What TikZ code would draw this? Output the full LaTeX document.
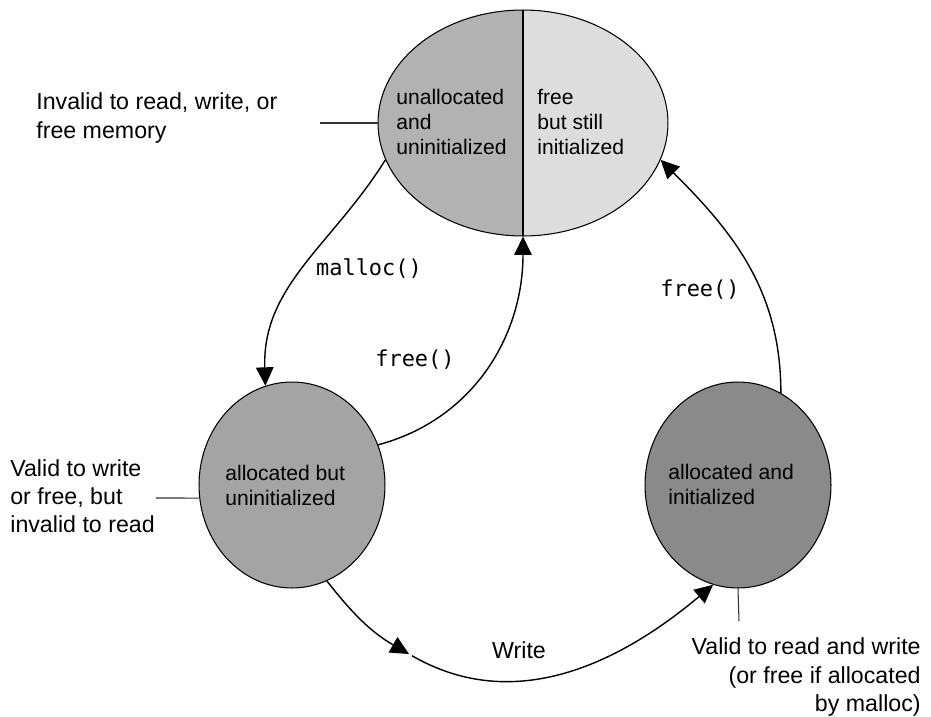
\documentclass[tikz,border=0pt]{standalone}
\usepackage{fontspec}
\setmainfont{Liberation Sans}
\setmonofont{DejaVu Sans Mono}
\usetikzlibrary{shapes.geometric,arrows.meta}
\definecolor{unallocgray}{HTML}{B2B2B2}
\definecolor{freegray}{HTML}{DDDDDD}
\definecolor{uninitgray}{HTML}{A4A4A4}
\definecolor{initgray}{HTML}{8A8A8A}

\tikzset{
  state/.style={ellipse,draw=black,line width=0.6pt,inner sep=0pt,align=left,font=\fontsize{12}{14.2}\selectfont},
  trans/.style={-{Triangle[length=10.5pt,width=10pt]},line width=0.8pt},
  note/.style={font=\fontsize{13.2}{16}\selectfont,inner sep=0pt},
  tick/.style={line width=0.6pt,draw=black!80},
  call/.style={font=\ttfamily\fontsize{12.5}{14}\selectfont,inner sep=0pt}
}

\begin{document}
\begin{tikzpicture}[x=0.02cm,y=0.02cm]
\useasboundingbox (0,0) rectangle (931,-717);
% states (pixel grid, y down as negative)
\node[state,minimum width=5.8cm,minimum height=4.52cm,fill=freegray,
  path picture={\fill[unallocgray] (path picture bounding box.south west) rectangle (path picture bounding box.north);
    \draw[line width=0.6pt] (path picture bounding box.south) -- (path picture bounding box.north);}] (top) at (523,-123) {};
\node[inner sep=0pt,anchor=west,align=left,font=\fontsize{12}{14.2}\selectfont] (ul) at (396,-122) {unallocated\\and\\uninitialized};
\node[inner sep=0pt,anchor=west,align=left,font=\fontsize{12}{14.2}\selectfont] (fr) at (537,-122) {free\\but still\\initialized};

\node[state,minimum width=3.72cm,minimum height=4.12cm,fill=uninitgray] (lu) at (292,-485) {};
\node[inner sep=0pt,anchor=west,align=left,font=\fontsize{12}{14.2}\selectfont] (lut) at (225,-485) {allocated but\\uninitialized};
\node[state,minimum width=3.72cm,minimum height=4.12cm,fill=initgray] (ai) at (738,-485) {};
\node[inner sep=0pt,anchor=west,align=left,font=\fontsize{12}{14.2}\selectfont] (ait) at (668,-484) {allocated and\\initialized};

% notes
\node[note,anchor=west,align=left] (inv) at (36,-118) {Invalid to read, write, or\\free memory};
\coordinate (invtick) at (320,-123);
\draw[tick] (invtick) -- (top.west);

\node[note,anchor=west,align=left] (vw) at (10,-496) {Valid to write\\or free, but\\invalid to read};
\coordinate (vwtick) at (156,-498);
\draw[tick] (vwtick) -- (lu.188);

\node[note,anchor=east,align=right] (vr) at (921,-677) {Valid to read and write\\(or free if allocated\\by malloc)};
\coordinate (vrtick) at (739,-621);
\draw[tick] (ai.south) -- (vrtick);

% transitions
\draw[trans] (top.195) to[out=-122,in=92] (lu.105);
\node[call] (mal) at (369,-269) {malloc()};

\draw[trans] (lu.25) to[out=15,in=-90] (top.south);
\node[call] (fre1) at (415,-360) {free()};

\draw[trans] (ai.65) to[out=90,in=-45] (top.-15);
\node[call] (fre2) at (700,-290) {free()};

\coordinate (wmid) at (409,-654);
\draw[trans] (lu.-70) to[out=-52,in=150] (wmid);
\draw[trans,shorten <=2pt] (wmid) to[out=-30,in=220] (ai.-104);
\node[note] (wr) at (519,-650) {Write};
\end{tikzpicture}
\end{document}
